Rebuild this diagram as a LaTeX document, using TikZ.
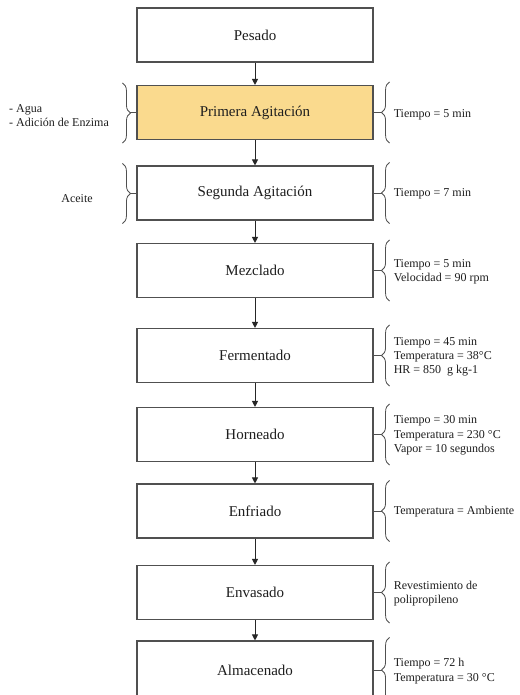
\documentclass[tikz,border=0pt]{standalone}
\usepackage{fontspec}
\setmainfont{Liberation Serif}
\usetikzlibrary{arrows.meta,decorations.pathreplacing}
\definecolor{boxline}{RGB}{80,80,80}
\definecolor{hlfill}{RGB}{250,218,142}
\definecolor{txt}{RGB}{30,30,30}
\tikzset{
  stepbox/.style={draw=boxline,line width=1.1pt,fill=white,minimum width=236pt,minimum height=54pt,inner sep=0pt,text=txt,font=\fontsize{15}{17}\selectfont},
  flow/.style={draw=black!85,line width=0.9pt,-{Triangle[width=6pt,length=6pt]}},
  bracesty/.style={draw=boxline,line width=0.8pt,decorate,decoration={brace,amplitude=8pt,aspect=0.5}},
  tick/.style={draw=boxline,line width=0.8pt},
  sidetext/.style={text=txt,font=\fontsize{12}{14.3}\selectfont,align=left,inner sep=0pt}
}
\begin{document}
\begin{tikzpicture}[x=1pt,y=-1pt]
\useasboundingbox (0,0) rectangle (519,695);
\clip (0,0) rectangle (519,695);
\fill[white] (0,0) rectangle (519,695);
\node[stepbox] (s1) at (255,35) {Pesado};
\node[stepbox,fill=hlfill] (s2) at (255,112.5) {Primera Agitación};
\node[stepbox] (s3) at (255,193) {Segunda Agitación};
\node[stepbox] (s4) at (255,270.5) {Mezclado};
\node[stepbox] (s5) at (255,355.5) {Fermentado};
\node[stepbox] (s6) at (255,434.5) {Horneado};
\node[stepbox] (s7) at (255,511) {Enfriado};
\node[stepbox] (s8) at (255,592.5) {Envasado};
\node[stepbox,minimum height=58pt] (s9) at (255,670) {Almacenado};
\foreach \a/\b in {s1/s2,s2/s3,s3/s4,s4/s5,s5/s6,s6/s7,s7/s8,s8/s9}
  \draw[flow] (\a) -- (\b);
% right braces
\foreach \n in {s2,s3,s4,s5,s6,s7,s8,s9}{
  \draw[bracesty] ([xshift=16pt,yshift=-3pt]\n.south east) -- ([xshift=16pt,yshift=3pt]\n.north east);
  \draw[tick] (\n.east) -- ++(8pt,0);
}
\node[sidetext,anchor=west] (r2) at ([xshift=20pt,yshift=-2pt]s2.east) {Tiempo = 5 min};
\node[sidetext,anchor=west] (r3) at ([xshift=20pt,yshift=-1pt]s3.east) {Tiempo = 7 min};
\node[sidetext,anchor=west] (r4) at ([xshift=20pt,yshift=-1pt]s4.east) {Tiempo = 5 min\\Velocidad = 90 rpm};
\node[sidetext,anchor=west] (r5) at ([xshift=20pt,yshift=-1.5pt]s5.east) {Tiempo = 45 min\\Temperatura = 38°C\\HR = 850~ g kg-1};
\node[sidetext,anchor=west] (r6) at ([xshift=20pt,yshift=-1pt]s6.east) {Tiempo = 30 min\\Temperatura = 230 °C\\Vapor = 10 segundos};
\node[sidetext,anchor=west] (r7) at ([xshift=20pt,yshift=-1pt]s7.east) {Temperatura = Ambiente};
\node[sidetext,anchor=west] (r8) at ([xshift=20pt,yshift=-1pt]s8.east) {Revestimiento de\\polipropileno};
\node[sidetext,anchor=west] (r9) at ([xshift=20pt,yshift=-1pt]s9.east) {Tiempo = 72 h\\Temperatura = 30 °C};
% left braces
\foreach \n in {s2,s3}{
  \draw[bracesty] ([xshift=-14pt,yshift=2pt]\n.north west) -- ([xshift=-14pt,yshift=-3pt]\n.south west);
  \draw[tick] (\n.west) -- ++(-6pt,0);
}
\node[sidetext,anchor=west] (l2) at (9,115.5) {- Agua\\- Adición de Enzima};
\node[sidetext] (l3) at (77,199) {Aceite};
\end{tikzpicture}
\end{document}
